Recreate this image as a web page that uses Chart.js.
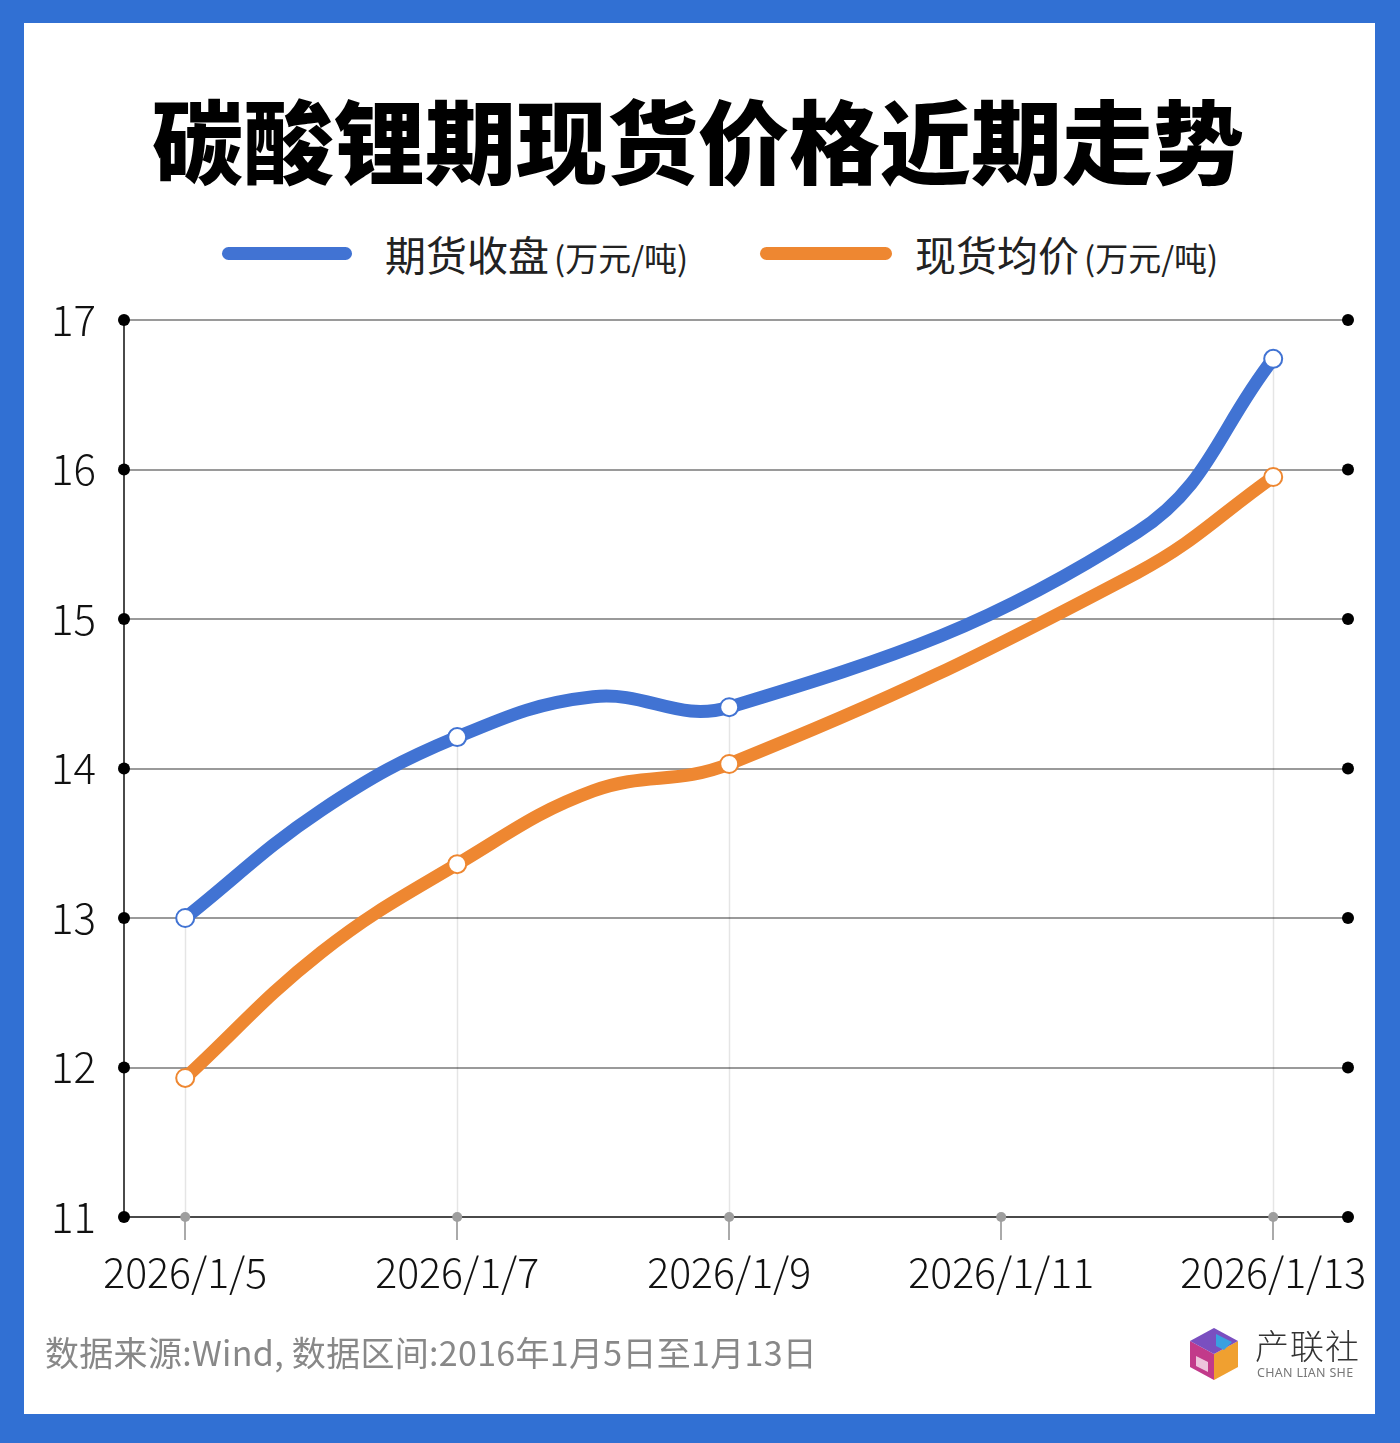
<!DOCTYPE html>
<html>
<head>
<meta charset="utf-8">
<script src="https://cdn.jsdelivr.net/npm/chart.js@4/dist/chart.umd.min.js"></script>
<style>
  html,body{margin:0;padding:0;}
  body{width:1400px;height:1443px;background:#3170d3;position:relative;overflow:hidden;font-family:"Noto Sans CJK SC","Noto Sans",sans-serif;}
  #panel{position:absolute;left:24px;top:23px;width:1351px;height:1391px;background:#fff;}
  #title{position:absolute;left:0;width:1396px;top:137px;transform:translateY(-50%);text-align:center;font-size:91px;font-weight:900;color:#000;line-height:1;}
  .lg-line{position:absolute;height:13px;border-radius:7px;top:247px;}
  .lg-text{position:absolute;top:253px;transform:translateY(-50%);color:#222;white-space:nowrap;line-height:1;}
  .lg-text .main{font-size:41px;font-weight:400;}
  .lg-text .unit{font-size:33px;font-weight:400;margin-left:5px;}
  #chartwrap{position:absolute;left:0;top:0;width:1400px;height:1443px;}
  #footer{position:absolute;left:45px;top:1352px;transform:translateY(-50%);font-size:34px;color:#888;white-space:nowrap;line-height:1;letter-spacing:0.3px;}
  #logo-cn{position:absolute;left:1255px;top:1345px;transform:translateY(-50%);font-size:34px;color:#333;font-weight:300;line-height:1;letter-spacing:1px;}
  #logo-en{position:absolute;left:1257px;top:1373px;transform:translateY(-50%);font-size:12.5px;color:#777;font-family:"Noto Sans","DejaVu Sans",sans-serif;line-height:1;letter-spacing:0.3px;}
  #logo-icon{position:absolute;left:1186px;top:1326px;width:56px;height:56px;}
</style>
</head>
<body>
<div id="panel"></div>
<div id="title">碳酸锂期现货价格近期走势</div>

<div class="lg-line" style="left:222px;width:130px;background:#4173d3;"></div>
<div class="lg-text" style="left:385px;"><span class="main">期货收盘</span><span class="unit">(万元/吨)</span></div>
<div class="lg-line" style="left:760px;width:132px;background:#ee8731;"></div>
<div class="lg-text" style="left:915px;"><span class="main">现货均价</span><span class="unit">(万元/吨)</span></div>

<div id="chartwrap"><canvas id="c" width="1400" height="1443"></canvas></div>

<div id="footer">数据来源:Wind, 数据区间:2016年1月5日至1月13日</div>
<svg id="logo-icon" viewBox="0 0 56 56">
  <polygon points="28,2 52,15 52,41 28,54 4,41 4,15" fill="#f3f3f8"/>
  <polygon points="4,15 28,28 28,54 4,41" fill="#c23a8a"/>
  <polygon points="28,28 52,15 52,41 28,54" fill="#f0a030"/>
  <polygon points="4,15 28,2 52,15 28,28" fill="#7a4fc0"/>
  <polygon points="30,8 46,16 38,24 30,20" fill="#3aa0e0"/>
  <polygon points="10,30 22,36 22,46 10,40" fill="#fff" opacity="0.7"/>
</svg>
<div id="logo-cn">产联社</div>
<div id="logo-en">CHAN LIAN SHE</div>

<script>
// ---- data ----
const dates = ['2026/1/5','2026/1/6','2026/1/7','2026/1/8','2026/1/9','2026/1/12','2026/1/13'];
const futuresClose = [13.00, 13.72, 14.21, 14.48, 14.41, 15.58, 16.74];   // 期货收盘 (万元/吨)
const spotAverage  = [11.93, 12.77, 13.36, 13.85, 14.03, 15.31, 15.95];   // 现货均价 (万元/吨)
const xTickLabels = ['2026/1/5','2026/1/7','2026/1/9','2026/1/11','2026/1/13'];
const yTickValues = [11, 12, 13, 14, 15, 16, 17];
const seriesNames = ['期货收盘(万元/吨)', '现货均价(万元/吨)'];

// ---- helpers ----
const DAY = 86400000;
const base = Date.parse(dates[0]);
const dayOf = d => Math.round((Date.parse(d) - base) / DAY);
const xVals = dates.map(dayOf);
const xTickVals = xTickLabels.map(dayOf);
const marked = dates.map(d => xTickLabels.includes(d));

const BLUE = '#4173d3', ORANGE = '#ee8731';
const FONT = '"Noto Sans CJK SC","Noto Sans",sans-serif';

const mk = (vals) => vals.map((v, i) => ({x: xVals[i], y: v}));

const deco = {
  id: 'deco',
  beforeDatasetsDraw(chart) {
    const ctx = chart.ctx, area = chart.chartArea;
    ctx.save();
    ctx.strokeStyle = 'rgba(0,0,0,0.10)';
    ctx.lineWidth = 1.5;
    const m0 = chart.getDatasetMeta(0).data, m1 = chart.getDatasetMeta(1).data;
    m0.forEach((pt, i) => {
      if (!marked[i]) return;
      const top = Math.min(pt.y, m1[i] ? m1[i].y : pt.y);
      ctx.beginPath();
      ctx.moveTo(Math.round(pt.x) + 0.5, top);
      ctx.lineTo(Math.round(pt.x) + 0.5, area.bottom);
      ctx.stroke();
    });
    ctx.restore();
  },
  afterDraw(chart) {
    const ctx = chart.ctx, area = chart.chartArea;
    const ys = chart.scales.y, xs = chart.scales.x;
    ctx.save();
    ctx.fillStyle = '#9e9e9e';
    xs.ticks.forEach(t => {
      const px = xs.getPixelForValue(t.value);
      ctx.beginPath(); ctx.arc(px, area.bottom, 5, 0, Math.PI * 2); ctx.fill();
    });
    ctx.fillStyle = '#000';
    ys.ticks.forEach(t => {
      const py = ys.getPixelForValue(t.value);
      [area.left, area.right].forEach(px => {
        ctx.beginPath(); ctx.arc(px, py, 6, 0, Math.PI * 2); ctx.fill();
      });
    });
    ctx.restore();
  }
};

const pointStyle = (color) => ({
  borderColor: color,
  backgroundColor: color,
  borderWidth: 13,
  borderCapStyle: 'round',
  borderJoinStyle: 'round',
  tension: 0.4,
  pointRadius: ctx => marked[ctx.dataIndex] ? 9 : 0,
  pointHoverRadius: ctx => marked[ctx.dataIndex] ? 9 : 0,
  pointBackgroundColor: '#fff',
  pointBorderColor: color,
  pointBorderWidth: 2,
  fill: false
});

new Chart(document.getElementById('c'), {
  type: 'line',
  data: {
    datasets: [
      Object.assign({label: seriesNames[0], data: mk(futuresClose)}, pointStyle(BLUE)),
      Object.assign({label: seriesNames[1], data: mk(spotAverage)}, pointStyle(ORANGE))
    ]
  },
  options: {
    responsive: false,
    animation: false,
    devicePixelRatio: 1,
    layout: {padding: {left: 0, right: 52, top: 320, bottom: 0}},
    plugins: {legend: {display: false}, tooltip: {enabled: false}, title: {display: false}},
    scales: {
      x: {
        type: 'linear',
        min: -0.45,
        max: 8.55,
        afterBuildTicks: axis => { axis.ticks = xTickVals.map(v => ({value: v})); },
        afterFit: scale => { scale.height = 226; },
        ticks: {
          autoSkip: false,
          maxRotation: 0,
          padding: 8,
          color: '#111',
          font: {family: FONT, size: 41, weight: 300},
          callback: (v) => { const i = xTickVals.indexOf(v); return i >= 0 ? xTickLabels[i] : ''; }
        },
        grid: {display: true, drawOnChartArea: false, drawTicks: true, tickLength: 23, color: '#aaa', lineWidth: 2},
        border: {display: true, color: '#4a4a4a', width: 2}
      },
      y: {
        min: yTickValues[0],
        max: yTickValues[yTickValues.length - 1],
        afterBuildTicks: axis => { axis.ticks = yTickValues.map(v => ({value: v})); },
        afterFit: scale => { scale.width = 124; },
        ticks: {
          padding: 28,
          color: '#111',
          font: {family: FONT, size: 42, weight: 300},
          callback: v => String(v)
        },
        grid: {color: '#9a9a9a', lineWidth: 2, drawTicks: false},
        border: {display: true, color: '#4a4a4a', width: 2}
      }
    }
  },
  plugins: [deco]
});
</script>
</body>
</html>
